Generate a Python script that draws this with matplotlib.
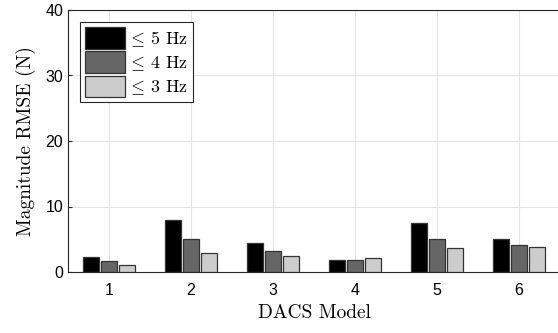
import numpy as np
import matplotlib
matplotlib.use('Agg')
import matplotlib.pyplot as plt

plt.rcParams['mathtext.fontset'] = 'cm'
plt.rcParams['font.family'] = ['Liberation Sans', 'DejaVu Sans']
plt.rcParams['axes.unicode_minus'] = False

models = [1, 2, 3, 4, 5, 6]
rmse_5hz = [2.3, 7.9, 4.4, 1.9, 7.5, 5.1]
rmse_4hz = [1.7, 5.0, 3.2, 1.9, 5.1, 4.1]
rmse_3hz = [1.0, 2.9, 2.5, 2.1, 3.7, 3.8]
labels = [r'$\leq\,$5 Hz', r'$\leq\,$4 Hz', r'$\leq\,$3 Hz']
colors = ['#000000', '#666666', '#cccccc']

fig = plt.figure(figsize=(5.58, 3.33), dpi=100)
ax = fig.add_axes([68 / 558, 61 / 333, 492 / 558, 262 / 333])

x = np.array(models, dtype=float)
width = 0.19
offsets = [-0.22, 0.0, 0.22]
for vals, off, col, lab in zip([rmse_5hz, rmse_4hz, rmse_3hz], offsets, colors, labels):
    ax.bar(x + off, vals, width, color=col, edgecolor='#333333', linewidth=0.9,
           label=lab, zorder=3)

ax.set_xlim(0.5, 6.5)
ax.set_ylim(0, 40)
ax.set_xticks(models)
ax.set_yticks([0, 10, 20, 30, 40])
ax.tick_params(direction='in', length=3, labelsize=11.5, width=0.8, color='#262626')
ax.tick_params(axis='x', pad=8)
ax.grid(True, color='#e3e3e3', linewidth=0.8, zorder=0)
for s in ax.spines.values():
    s.set_color('#262626')
    s.set_linewidth(0.8)

ax.set_xlabel('DACS Model', family='cmr10', fontsize=14, labelpad=4)
ax.set_ylabel('Magnitude RMSE (N)', family='cmr10', fontsize=14, labelpad=7)

leg = ax.legend(loc='upper left', prop={'family': 'cmr10', 'size': 13},
                handlelength=2.2, handleheight=1.45,
                handletextpad=0.1, labelspacing=0.15, borderpad=0.3,
                borderaxespad=0, fancybox=False, framealpha=1,
                edgecolor='#262626', bbox_to_anchor=(0.024, 0.955))
leg.get_frame().set_linewidth(0.8)

fig.savefig('out.png', dpi=100)
